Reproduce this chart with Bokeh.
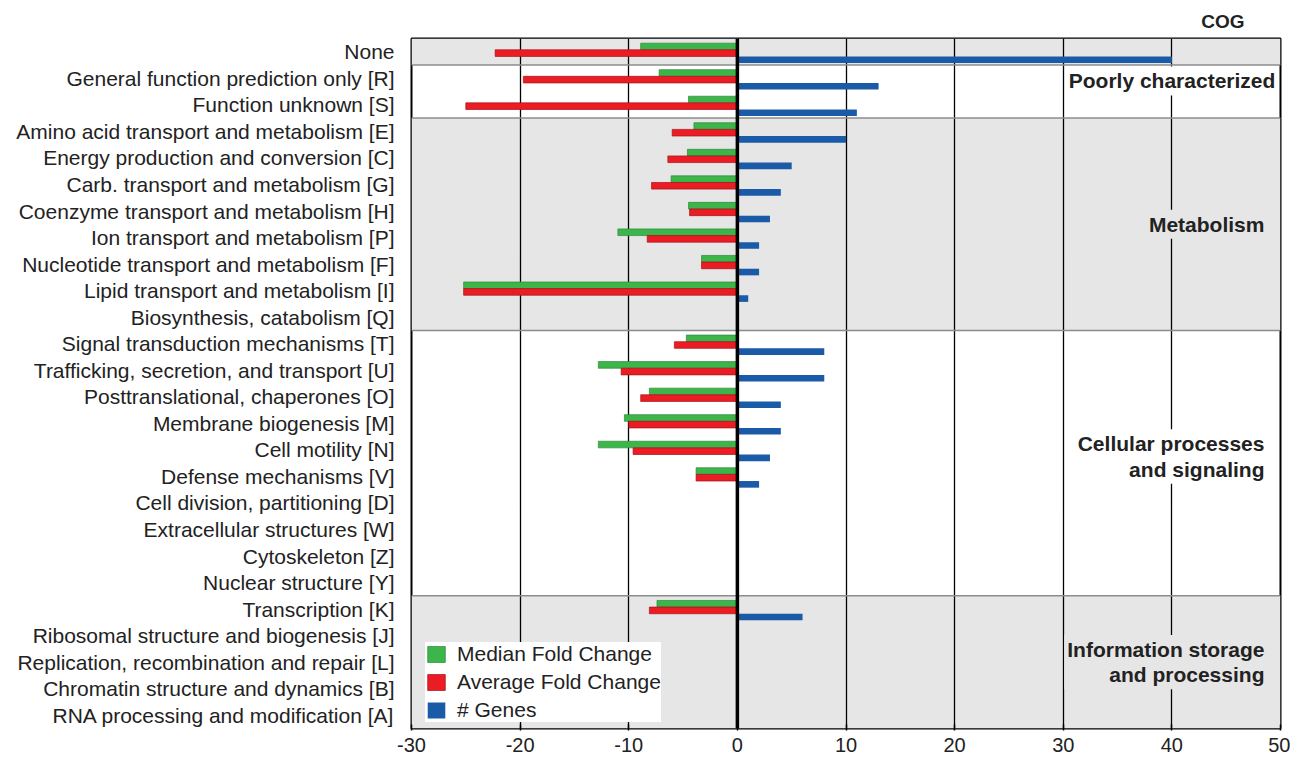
import numpy as np
from bokeh.plotting import figure
from bokeh.models import (FactorRange, ColumnDataSource, Span, BoxAnnotation, Label,
                          FixedTicker, Legend, LegendItem)
from bokeh.transform import dodge
from bokeh.embed import file_html
from bokeh.resources import INLINE

nan = float("nan")

categories = [
    "None",
    "General function prediction only [R]",
    "Function unknown [S]",
    "Amino acid transport and metabolism [E]",
    "Energy production and conversion [C]",
    "Carb. transport and metabolism [G]",
    "Coenzyme transport and metabolism [H]",
    "Ion transport and metabolism [P]",
    "Nucleotide transport and metabolism [F]",
    "Lipid transport and metabolism [I]",
    "Biosynthesis, catabolism [Q]",
    "Signal transduction mechanisms [T]",
    "Trafficking, secretion, and transport [U]",
    "Posttranslational, chaperones [O]",
    "Membrane biogenesis [M]",
    "Cell motility [N]",
    "Defense mechanisms [V]",
    "Cell division, partitioning [D]",
    "Extracellular structures [W]",
    "Cytoskeleton [Z]",
    "Nuclear structure [Y]",
    "Transcription [K]",
    "Ribosomal structure and biogenesis [J]",
    "Replication, recombination and repair [L]",
    "Chromatin structure and dynamics [B]",
    "RNA processing and modification [A]",
]

median_fold = [-8.9, -7.2, -4.5, -4.0, -4.6, -6.1, -4.5, -11.0, -3.3, -25.2, nan,
               -4.7, -12.8, -8.1, -10.4, -12.8, -3.8, nan, nan, nan, nan,
               -7.4, nan, nan, nan, nan]
average_fold = [-22.3, -19.7, -25.0, -6.0, -6.4, -7.9, -4.4, -8.3, -3.3, -25.2, nan,
                -5.8, -10.7, -8.9, -10.0, -9.6, -3.8, nan, nan, nan, nan,
                -8.1, nan, nan, nan, nan]
n_genes = [40, 13, 11, 10, 5, 4, 3, 2, 2, 1, 0,
           8, 8, 4, 4, 3, 2, 0, 0, 0, 0,
           6, 0, 0, 0, 0]

group_names = ["", "Poorly characterized", "Metabolism",
               "Cellular processes\nand signaling", "Information storage\nand processing"]
group_sizes = [1, 2, 8, 10, 5]
group_shaded = [True, False, True, False, True]

x_ticks = [-30, -20, -10, 0, 10, 20, 30, 40, 50]
x_tick_labels = ["-30", "-20", "-10", "0", "10", "20", "30", "40", "50"]

GREEN = "#3cb54a"
RED = "#ec1c24"
BLUE = "#1a5aa6"
BAND = "#e6e6e6"
FONT = "Liberation Sans"
TXT = "#222222"

src = ColumnDataSource(dict(cat=categories,
                            median=np.array(median_fold, dtype=float),
                            average=np.array(average_fold, dtype=float),
                            genes=np.array(n_genes, dtype=float)))

n = len(categories)
yr = FactorRange(factors=list(reversed(categories)), range_padding=0, factor_padding=0)

p = figure(width=1290, height=754, y_range=yr, x_range=(x_ticks[0], x_ticks[-1]),
           output_backend="svg", toolbar_location=None,
           min_border_left=411, min_border_right=10, min_border_top=38, min_border_bottom=0)
p.background_fill_color = "white"
p.border_fill_color = "white"
p.outline_line_color = "black"
p.outline_line_width = 2

p.title.text = "COG"
p.title.align = "right"
p.title.text_font = FONT
p.title.text_font_style = "bold"
p.title.text_font_size = "19px"
p.title.text_color = TXT
p.title.offset = 36
p.title.standoff = 14

# bands
top = n
for name, size, shaded in zip(group_names, group_sizes, group_shaded):
    bottom = top - size
    if shaded:
        p.add_layout(BoxAnnotation(bottom=bottom, top=top, fill_color=BAND, fill_alpha=1,
                                   line_color=None, level="image"))
    top = bottom

# grid
p.ygrid.visible = False
p.xgrid.ticker = FixedTicker(ticks=x_ticks)
p.xgrid.grid_line_color = "black"
p.xgrid.grid_line_width = 1.3
p.xgrid.level = "underlay"

# band separators
top = n
for size in group_sizes[:-1]:
    top -= size
    p.add_layout(Span(location=top, dimension="width", line_color="#8c8c8c", line_width=1.5))

h = 0.25
r_med = p.hbar(y=dodge("cat", 0.2, range=yr), left=0, right="median", height=h, source=src,
               fill_color=GREEN, line_color="#2b8a3a", line_width=0.7)
r_avg = p.hbar(y=dodge("cat", -0.05, range=yr), left=0, right="average", height=h, source=src,
               fill_color=RED, line_color="#a51117", line_width=0.7)
r_gen = p.hbar(y=dodge("cat", -0.3, range=yr), left=0, right="genes", height=h, source=src,
               fill_color=BLUE, line_color=None)

p.add_layout(Span(location=0, dimension="height", line_color="black", line_width=3.5))

# axes
p.xaxis.ticker = FixedTicker(ticks=x_ticks)
p.xaxis.major_label_overrides = {t: s for t, s in zip(x_ticks, x_tick_labels)}
p.xaxis.axis_line_color = None
p.xaxis.major_tick_in = 4
p.xaxis.major_tick_out = 2
p.xaxis.major_tick_line_width = 1.5
p.xaxis.minor_tick_line_color = None
p.xaxis.major_label_text_font = FONT
p.xaxis.major_label_text_font_size = "20px"
p.xaxis.major_label_text_color = TXT
p.xaxis.major_label_standoff = 7

p.yaxis.axis_line_color = None
p.yaxis.major_tick_line_color = None
p.yaxis.minor_tick_line_color = None
p.yaxis.major_label_text_font = FONT
p.yaxis.major_label_text_font_size = "21px"
p.yaxis.major_label_text_color = TXT
p.yaxis.major_label_standoff = 11

# group labels
label_nudge = {1: (49.8, 0.4), 3: (48.8, 0.25)}
top = n
for i, (name, size, shaded) in enumerate(zip(group_names, group_sizes, group_shaded)):
    bottom = top - size
    if name:
        xr, dy = label_nudge.get(i, (48.8, 0.0))
        yc = (top + bottom) / 2 + dy
        p.add_layout(Label(x=xr, y=yc, text=name, text_align="right", text_baseline="middle",
                           text_font=FONT, text_font_style="bold", text_font_size="21px",
                           text_color=TXT, text_line_height=1.1,
                           background_fill_color=BAND if shaded else "white",
                           background_fill_alpha=1, padding=3))
    top = bottom

legend = Legend(items=[LegendItem(label="Median Fold Change", renderers=[r_med]),
                       LegendItem(label="Average Fold Change", renderers=[r_avg]),
                       LegendItem(label="# Genes", renderers=[r_gen])],
                location=(14, 6), label_text_font=FONT, label_text_font_size="21px",
                label_text_color=TXT, glyph_width=22, glyph_height=20,
                spacing=4, padding=18, margin=0, border_line_color=None,
                background_fill_color="white", background_fill_alpha=1,
                label_standoff=10, label_height=20)
p.add_layout(legend)

open("out.html", "w").write(file_html(p, INLINE))
